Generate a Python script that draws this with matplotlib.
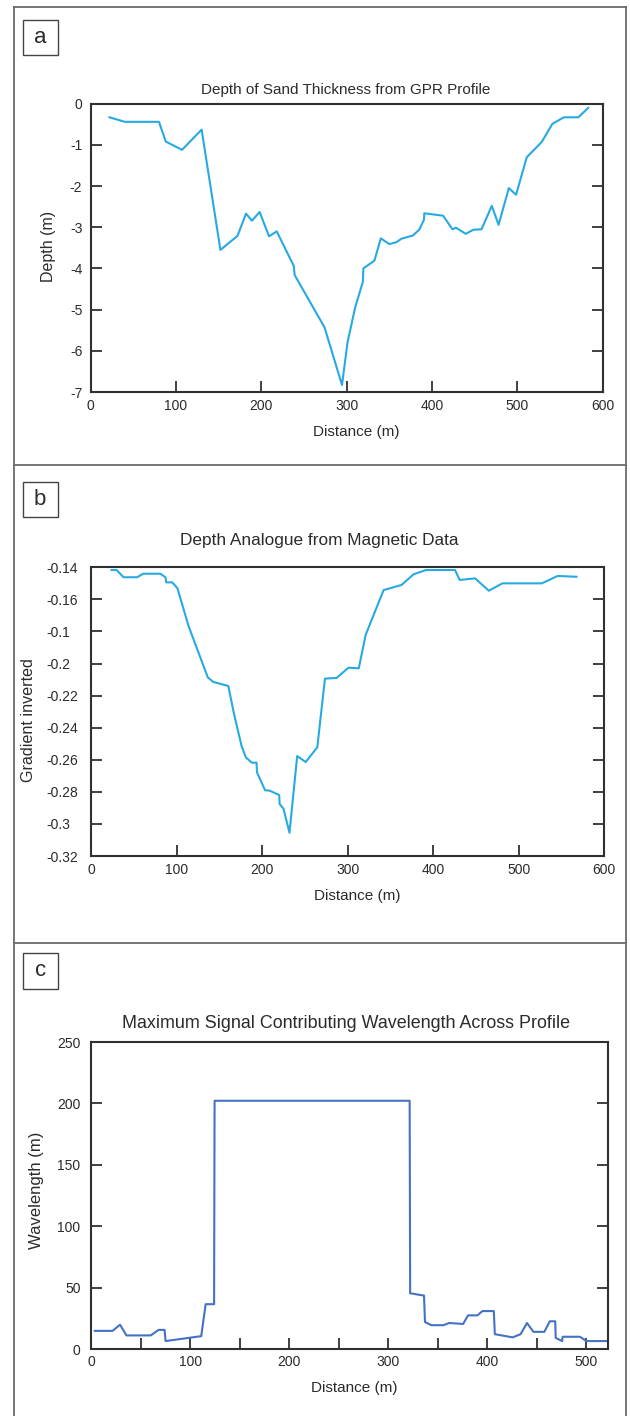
import matplotlib
matplotlib.use("Agg")
import matplotlib.pyplot as plt
from matplotlib import font_manager
from matplotlib.patches import Rectangle
from matplotlib.lines import Line2D
from matplotlib.ticker import FixedLocator, FixedFormatter

# ---------------------------------------------------------------- data
# (a) sand thickness picked from the GPR section
gpr_distance = [22, 40, 80, 88, 107, 130, 152, 172, 182, 189, 198, 209, 218,
                238, 239, 274, 294.5, 301, 310, 319, 319.5, 332.5, 340, 350,
                358.5, 364, 377.5, 385, 390.5, 391, 413, 424, 428, 439.5,
                448.5, 458, 470, 478, 490, 498.5, 511, 528.5, 541, 554.5,
                571.5, 583]
gpr_depth = [-0.33, -0.44, -0.44, -0.92, -1.12, -0.63, -3.55, -3.21, -2.67,
             -2.84, -2.63, -3.22, -3.10, -3.94, -4.16, -5.43, -6.83, -5.79,
             -4.94, -4.32, -4.00, -3.81, -3.27, -3.41, -3.36, -3.28, -3.20,
             -3.06, -2.82, -2.66, -2.72, -3.05, -3.01, -3.16, -3.06, -3.05,
             -2.48, -2.94, -2.05, -2.21, -1.30, -0.93, -0.49, -0.33, -0.33,
             -0.10]

# (b) inverted magnetic gradient used as a depth analogue
mag_distance = [24, 30, 38, 54, 61, 81, 87, 88, 95, 101, 114, 136.5, 143,
                160.5, 167, 176, 181, 188, 193.5, 194, 203.5, 209, 220, 220.5,
                225, 232, 241, 251, 264.5, 273.5, 287, 301, 313, 321, 342,
                363, 377, 391.5, 425.5, 431, 449, 465, 481, 527, 545.5, 567.5]
mag_gradient = [-0.1417, -0.1417, -0.1462, -0.1462, -0.1440, -0.1440,
                -0.1462, -0.1494, -0.1494, -0.1530, -0.1766, -0.2086, -0.2115,
                -0.2140, -0.2310, -0.2514, -0.2585, -0.2618, -0.2618, -0.2678,
                -0.2790, -0.2793, -0.2820, -0.2876, -0.2905, -0.3055, -0.2577,
                -0.2614, -0.2522, -0.2094, -0.2090, -0.2026, -0.2030, -0.1822,
                -0.1542, -0.1510, -0.1444, -0.1417, -0.1417, -0.1479, -0.1469,
                -0.1546, -0.1500, -0.1500, -0.1454, -0.1459]
mag_ticks = [-0.14, -0.16, -0.18, -0.20, -0.22, -0.24, -0.26, -0.28, -0.30,
             -0.32]
mag_tick_labels = ["-0.14", "-0.16", "-0.1", "-0.2", "-0.22", "-0.24",
                   "-0.26", "-0.28", "-0.3", "-0.32"]

# (c) dominant contributing wavelength along the profile
wl_distance = [3.5, 21.5, 29, 35.5, 60, 68, 74, 75, 111, 115.5, 124, 124.5,
               321.5, 322, 336, 337, 343.5, 355.5, 361.5, 375.5, 380.5, 390,
               395, 406.5, 407.5, 425.5, 433.5, 440, 446.5, 457.5, 463,
               468.5, 469, 475.5, 476, 493.5, 500, 521.5]
wl_value = [15, 15, 20, 11.3, 11.3, 15.8, 15.8, 6.7, 10.7, 36.7, 36.7, 202.2,
            202.2, 45.6, 43.7, 22.2, 19.6, 19.6, 21.4, 20.6, 27.6, 27.6, 31.1,
            31.1, 12.3, 9.7, 12.3, 21.4, 14.2, 14.2, 22.8, 22.8, 9.3, 6.7,
            10.2, 10.2, 6.7, 6.7]

panel_letters = ["a", "b", "c"]
titles = ["Depth of Sand Thickness from GPR Profile",
          "Depth Analogue from Magnetic Data",
          "Maximum Signal Contributing Wavelength Across Profile"]
ylabels = ["Depth (m)", "Gradient inverted", "Wavelength (m)"]
xlabel = "Distance (m)"

# ---------------------------------------------------------------- style
installed = {f.name for f in font_manager.fontManager.ttflist}
BODY = "Liberation Sans" if "Liberation Sans" in installed else "DejaVu Sans"
NARROW = "Liberation Sans Narrow" if "Liberation Sans Narrow" in installed else BODY

plt.rcParams["font.family"] = [BODY, "DejaVu Sans"]
plt.rcParams["axes.unicode_minus"] = False

INK = "#2b2b2b"
SPINE = "#303030"
CYAN = "#27AAE1"
BLUE = "#4472C4"

W, H = 630, 1416
fig = plt.figure(figsize=(W / 100, H / 100), dpi=100)


def add_axes_px(left, top, right, bottom):
    return fig.add_axes([left / W, 1 - bottom / H, (right - left) / W,
                         (bottom - top) / H])


def style_axes(ax, label_pad_x, label_pad_y):
    for s in ax.spines.values():
        s.set_color(SPINE)
        s.set_linewidth(1.5)
    ax.tick_params(axis="both", which="both", direction="in", length=8,
                   width=1.3, color=SPINE, labelsize=10, labelcolor=INK,
                   left=True, right=True, top=False, bottom=True)
    ax.tick_params(axis="x", pad=label_pad_x)
    ax.tick_params(axis="y", pad=label_pad_y)


def place_labels(ax, title, tx, ty, tsize, xl_pos, yl_pos, ysize):
    ax.set_title(title, fontsize=tsize, color=INK, x=tx, y=ty, pad=0,
                 va="baseline")
    ax.set_xlabel(xlabel, fontsize=11, color=INK)
    ax.xaxis.set_label_coords(*xl_pos)
    ax.xaxis.label.set_va("baseline")
    ax.set_ylabel(ax.get_ylabel(), fontsize=ysize, color=INK)
    ax.yaxis.set_label_coords(*yl_pos)
    ax.yaxis.label.set_va("center")


# ---------------------------------------------------------------- panel a
ax_a = add_axes_px(90.7, 103.7, 602.7, 392)
ax_a.plot(gpr_distance, gpr_depth, color=CYAN, lw=1.5)
ax_a.set_xlim(0, 600)
ax_a.set_ylim(-7, 0)
ax_a.set_xticks(range(0, 601, 100))
ax_a.set_yticks(range(-7, 1))
style_axes(ax_a, 5, 6)
ax_a.set_ylabel(ylabels[0])
place_labels(ax_a, titles[0], 0.4986, 1.0336, 11, (0.518, -0.1526),
             (-0.0824, 0.504), 11.5)

# ---------------------------------------------------------------- panel b
ax_b = add_axes_px(91, 567.3, 604.3, 856)
ax_b.plot(mag_distance, mag_gradient, color=CYAN, lw=1.5)
ax_b.set_xlim(0, 600)
ax_b.set_ylim(-0.32, -0.14)
ax_b.set_xticks(range(0, 601, 100))
ax_b.yaxis.set_major_locator(FixedLocator(mag_ticks))
ax_b.yaxis.set_major_formatter(FixedFormatter(mag_tick_labels))
style_axes(ax_b, 4.8, 32)
for lab in ax_b.get_yticklabels():
    lab.set_horizontalalignment("left")
ax_b.set_ylabel(ylabels[1])
place_labels(ax_b, titles[1], 0.445, 1.0772, 12.4, (0.518, -0.1524),
             (-0.1227, 0.471), 11.6)

# ---------------------------------------------------------------- panel c
ax_c = add_axes_px(91.3, 1042, 607.7, 1349.3)
ax_c.plot(wl_distance, wl_value, color=BLUE, lw=1.5)
ax_c.set_xlim(0, 521.5)
ax_c.set_ylim(0, 250)
ax_c.set_xticks(range(0, 501, 100))
ax_c.set_xticks(range(50, 500, 100), minor=True)
ax_c.set_yticks(range(0, 251, 50))
style_axes(ax_c, 4, 7.8)
ax_c.set_ylabel(ylabels[2])
place_labels(ax_c, titles[2], 0.494, 1.0446, 12.9, (0.509, -0.14),
             (-0.1057, 0.516), 12)

# ---------------------------------------------------------------- frame
FRAME = "#6a6a6a"
fx = lambda x: x / W
fy = lambda y: 1 - y / H
frame_lines = [
    ([13.7, 13.7], [7.3, H]),
    ([625.5, 625.5], [7.3, H]),
    ([13.7, 625.5], [7.3, 7.3]),
    ([13.7, 625.5], [465, 465]),
    ([13.7, 625.5], [942.7, 942.7]),
]
for xs, ys in frame_lines:
    fig.add_artist(Line2D([fx(v) for v in xs], [fy(v) for v in ys],
                          transform=fig.transFigure, color=FRAME, lw=1.3))

boxes = [(22.7, 19.7), (22.5, 482), (22.9, 953.3)]
for letter, (bx, by) in zip(panel_letters, boxes):
    size = 35.3
    fig.add_artist(Rectangle((fx(bx), fy(by + size)), size / W, size / H,
                             transform=fig.transFigure, facecolor="white",
                             edgecolor="#444444", lw=1.0))
    fig.text(fx(bx + size / 2), fy(by + size / 2), letter, fontsize=16,
             family=[NARROW, "DejaVu Sans"], color=INK, ha="center",
             va="center")

fig.savefig("out.png", dpi=100, facecolor="white")
